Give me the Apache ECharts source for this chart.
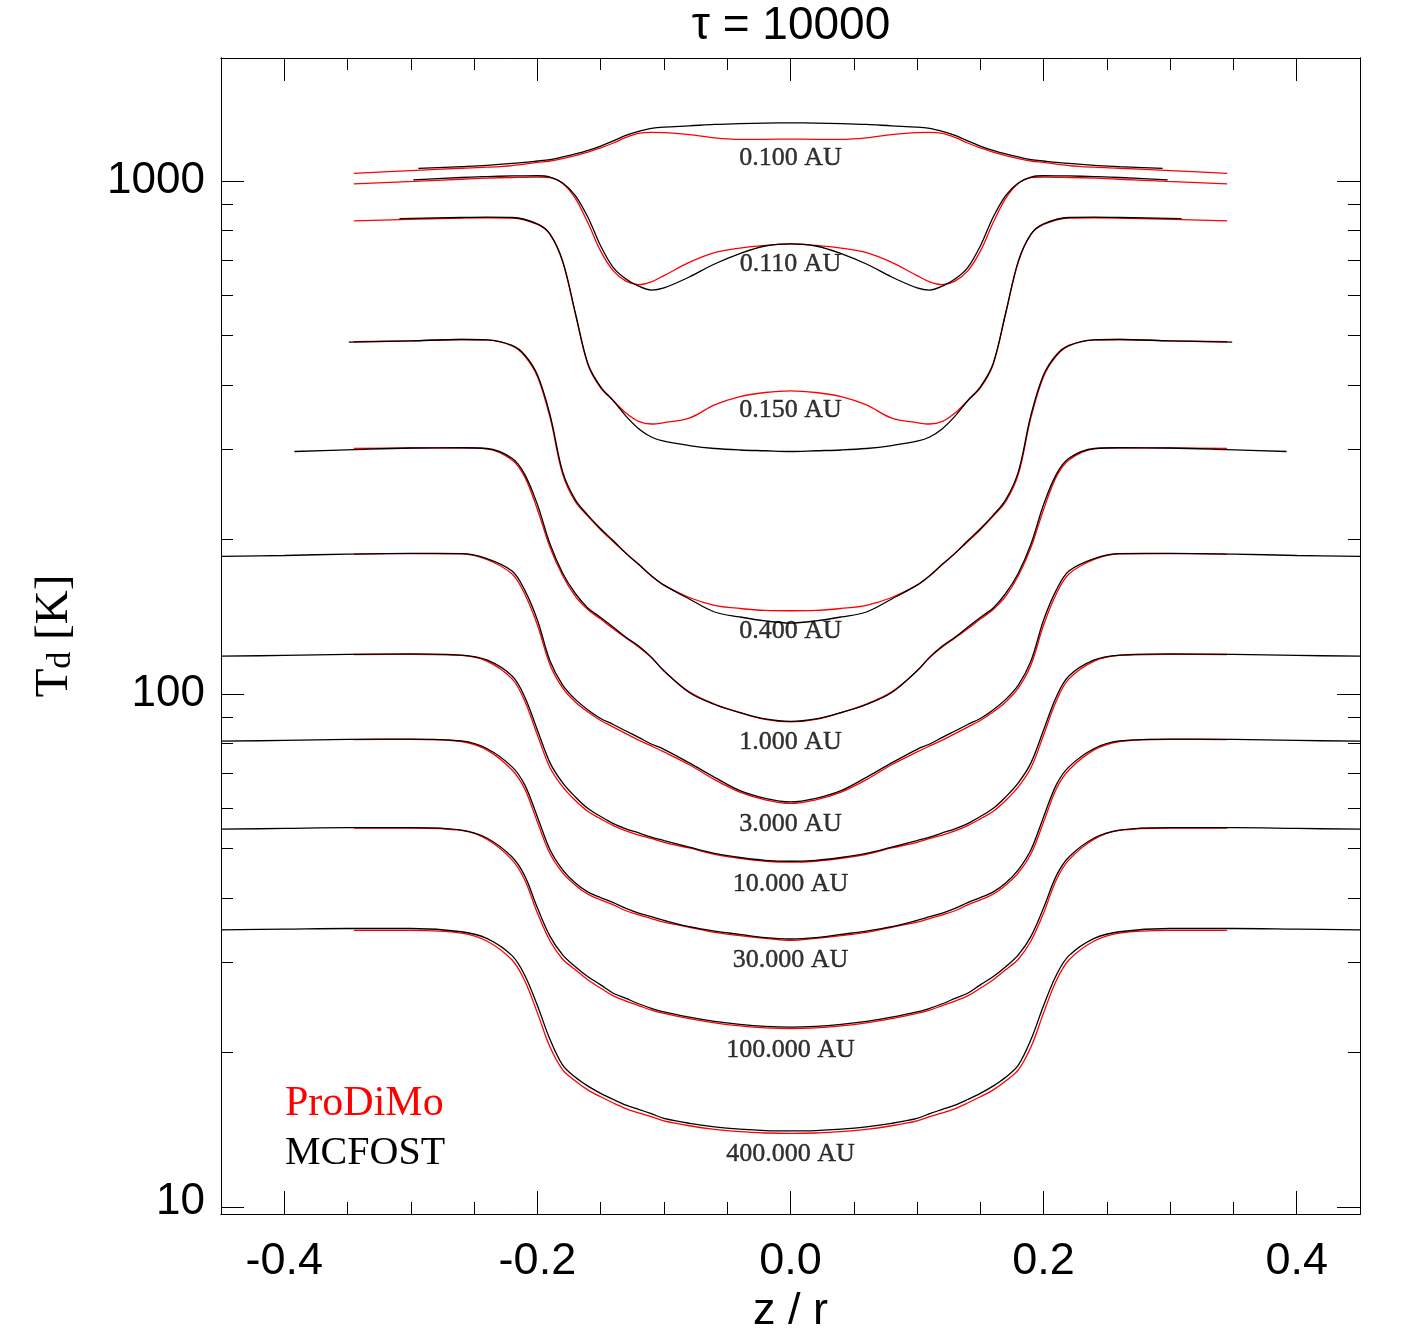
<!DOCTYPE html>
<html><head><meta charset="utf-8">
<script src="https://cdn.jsdelivr.net/npm/echarts@6/dist/echarts.min.js"></script>
<style>html,body{margin:0;padding:0;background:#fff}#c{width:1417px;height:1337px}</style>
</head><body><div id="c"></div>
<script>
// ---------------- data ----------------
const titleText = '\u03c4 = 10000';
const xTickMajor = [-0.4, -0.2, 0, 0.2, 0.4];
const xTickMinor = [-0.35, -0.3, -0.25, -0.15, -0.1, -0.05, 0.05, 0.1, 0.15, 0.25, 0.3, 0.35];
const yTickMajor = [10, 100, 1000];
const yTickMinor = [20, 30, 40, 50, 60, 70, 80, 90, 200, 300, 400, 500, 600, 700, 800, 900];
const curveLabels = ['0.100 AU', '0.110 AU', '0.150 AU', '0.400 AU', '1.000 AU', '3.000 AU', '10.000 AU', '30.000 AU', '100.000 AU', '400.000 AU'];
const curveLabelT = [1109, 689, 358, 132.7, 80.6, 55.8, 42.6, 30.3, 20.2, 12.7];
const legendNames = ['ProDiMo', 'MCFOST'];

// ProDiMo (red) and MCFOST (black) dust temperature profiles [z/r, T_d in K]
const prodimo_0p100 = [[-0.345,1035],[-0.30,1048],[-0.26,1059],[-0.24,1064],[-0.22,1072],[-0.20,1087],[-0.19,1094],[-0.18,1106],[-0.17,1121],[-0.16,1139],[-0.15,1160],[-0.14,1186],[-0.13,1216],[-0.12,1238],[-0.11,1244],[-0.10,1243],[-0.08,1232],[-0.06,1214],[-0.04,1206],[-0.02,1206],[0,1207],[0.02,1206],[0.04,1206],[0.06,1214],[0.08,1232],[0.10,1243],[0.11,1244],[0.12,1238],[0.13,1216],[0.14,1186],[0.15,1160],[0.16,1139],[0.17,1121],[0.18,1106],[0.19,1094],[0.20,1087],[0.22,1072],[0.24,1064],[0.26,1059],[0.30,1048],[0.345,1035]];
const mcfost_0p100 = [[-0.294,1058],[-0.26,1067],[-0.24,1073],[-0.22,1082],[-0.20,1094],[-0.19,1101],[-0.18,1114],[-0.17,1129],[-0.16,1147],[-0.15,1170],[-0.14,1197],[-0.13,1227],[-0.12,1249],[-0.11,1266],[-0.10,1274],[-0.08,1281],[-0.06,1289],[-0.04,1294],[-0.02,1297],[0,1298],[0.02,1297],[0.04,1294],[0.06,1289],[0.08,1281],[0.10,1274],[0.11,1266],[0.12,1249],[0.13,1227],[0.14,1197],[0.15,1170],[0.16,1147],[0.17,1129],[0.18,1114],[0.19,1101],[0.20,1094],[0.22,1082],[0.24,1073],[0.26,1067],[0.294,1058]];

const prodimo_0p110 = [[-0.345,987],[-0.298,998],[-0.26,1008],[-0.24,1013],[-0.22,1016],[-0.20,1018],[-0.19,1015],[-0.18,989],[-0.17,925],[-0.16,828],[-0.15,730],[-0.14,668],[-0.13,638],[-0.12,628],[-0.11,636],[-0.10,654],[-0.08,694],[-0.06,725],[-0.04,740],[-0.02,749],[0,754],[0.02,749],[0.04,740],[0.06,725],[0.08,694],[0.10,654],[0.11,636],[0.12,628],[0.13,638],[0.14,668],[0.15,730],[0.16,828],[0.17,925],[0.18,989],[0.19,1015],[0.20,1018],[0.22,1016],[0.24,1013],[0.26,1008],[0.298,998],[0.345,987]];
const mcfost_0p110 = [[-0.298,1005],[-0.26,1016],[-0.24,1020],[-0.22,1023],[-0.20,1024],[-0.19,1018],[-0.18,991],[-0.17,937],[-0.16,849],[-0.15,747],[-0.14,678],[-0.13,644],[-0.12,624],[-0.11,613],[-0.10,619],[-0.08,650],[-0.06,689],[-0.04,722],[-0.02,747],[0,754],[0.02,747],[0.04,722],[0.06,689],[0.08,650],[0.10,619],[0.11,613],[0.12,624],[0.13,644],[0.14,678],[0.15,747],[0.16,849],[0.17,937],[0.18,991],[0.19,1018],[0.20,1024],[0.22,1023],[0.24,1020],[0.26,1016],[0.298,1005]];

const prodimo_0p150 = [[-0.345,836],[-0.309,841],[-0.26,847],[-0.24,848],[-0.22,847],[-0.20,823],[-0.19,787],[-0.18,695],[-0.17,551],[-0.16,438],[-0.15,395],[-0.14,373],[-0.13,353],[-0.12,340],[-0.11,336],[-0.10,338],[-0.08,345],[-0.06,366],[-0.04,380],[-0.02,387],[0,390],[0.02,387],[0.04,380],[0.06,366],[0.08,345],[0.10,338],[0.11,336],[0.12,340],[0.13,353],[0.14,373],[0.15,395],[0.16,438],[0.17,551],[0.18,695],[0.19,787],[0.20,823],[0.22,847],[0.24,848],[0.26,847],[0.309,841],[0.345,836]];
const mcfost_0p150 = [[-0.309,845],[-0.26,849],[-0.24,850],[-0.22,849],[-0.20,825],[-0.19,788],[-0.18,698],[-0.17,553],[-0.16,440],[-0.15,397],[-0.14,373],[-0.13,348],[-0.12,329],[-0.11,317],[-0.10,311],[-0.08,305],[-0.06,301],[-0.04,299],[-0.02,298],[0,297],[0.02,298],[0.04,299],[0.06,301],[0.08,305],[0.10,311],[0.11,317],[0.12,329],[0.13,348],[0.14,373],[0.15,397],[0.16,440],[0.17,553],[0.18,698],[0.19,788],[0.20,825],[0.22,849],[0.24,850],[0.26,849],[0.309,845]];

const prodimo_0p400 = [[-0.345,486],[-0.30,488],[-0.26,491],[-0.24,490],[-0.22,477],[-0.21,456],[-0.20,416],[-0.19,346],[-0.18,268],[-0.17,237],[-0.16,222],[-0.15,209],[-0.14,198],[-0.13,188],[-0.12,179],[-0.11,170],[-0.10,163],[-0.08,154.2],[-0.06,148.9],[-0.04,146.8],[-0.02,145.5],[0,145.3],[0.02,145.5],[0.04,146.8],[0.06,148.9],[0.08,154.2],[0.10,163],[0.11,170],[0.12,179],[0.13,188],[0.14,198],[0.15,209],[0.16,222],[0.17,237],[0.18,268],[0.19,346],[0.20,416],[0.21,456],[0.22,477],[0.24,490],[0.26,491],[0.30,488],[0.345,486]];
const mcfost_0p400 = [[-0.349,485],[-0.30,488],[-0.26,491],[-0.24,490],[-0.22,478],[-0.21,458],[-0.20,419],[-0.19,350],[-0.18,271],[-0.17,239],[-0.16,223],[-0.15,210],[-0.14,199],[-0.13,188],[-0.12,179],[-0.11,170],[-0.10,163],[-0.08,153.2],[-0.06,144.5],[-0.04,141.3],[-0.02,138.8],[0,137.5],[0.02,138.8],[0.04,141.3],[0.06,144.5],[0.08,153.2],[0.10,163],[0.11,170],[0.12,179],[0.13,188],[0.14,199],[0.15,210],[0.16,223],[0.17,239],[0.18,271],[0.19,350],[0.20,419],[0.21,458],[0.22,478],[0.24,490],[0.26,491],[0.30,488],[0.349,485]];

const prodimo_1p000 = [[-0.345,301],[-0.30,301.7],[-0.26,302],[-0.24,300.6],[-0.22,286],[-0.21,265],[-0.20,229],[-0.19,193],[-0.18,170],[-0.17,155],[-0.16,146],[-0.15,140],[-0.14,134],[-0.13,128.6],[-0.12,123.5],[-0.11,117.8],[-0.10,110.9],[-0.08,101],[-0.06,95.6],[-0.04,92],[-0.02,89.2],[0,88.2],[0.02,89.2],[0.04,92],[0.06,95.6],[0.08,101],[0.10,110.9],[0.11,117.8],[0.12,123.5],[0.13,128.6],[0.14,134],[0.15,140],[0.16,146],[0.17,155],[0.18,170],[0.19,193],[0.20,229],[0.21,265],[0.22,286],[0.24,300.6],[0.26,302],[0.30,301.7],[0.345,301]];
const mcfost_1p000 = [[-0.392,297],[-0.345,299.6],[-0.30,301.7],[-0.26,302],[-0.24,301],[-0.22,288],[-0.21,268],[-0.20,234],[-0.19,196],[-0.18,172],[-0.17,157],[-0.16,147],[-0.15,141],[-0.14,135],[-0.13,129],[-0.12,124],[-0.11,118],[-0.10,111],[-0.08,100.7],[-0.06,95.4],[-0.04,92],[-0.02,89.4],[0,88.4],[0.02,89.4],[0.04,92],[0.06,95.4],[0.08,100.7],[0.10,111],[0.11,118],[0.12,124],[0.13,129],[0.14,135],[0.15,141],[0.16,147],[0.17,157],[0.18,172],[0.19,196],[0.20,234],[0.21,268],[0.22,288],[0.24,301],[0.26,302],[0.30,301.7],[0.345,299.6],[0.392,297]];

const prodimo_3p000 = [[-0.345,187.4],[-0.30,187.8],[-0.26,187.5],[-0.24,182.9],[-0.22,171.3],[-0.21,156.6],[-0.20,136.3],[-0.19,113.9],[-0.18,102.7],[-0.17,96.5],[-0.16,92.2],[-0.15,88.8],[-0.14,86.2],[-0.13,83.7],[-0.12,81.3],[-0.11,79.2],[-0.10,77.1],[-0.08,72.8],[-0.06,68.1],[-0.04,64.4],[-0.02,62.2],[0,61.2],[0.02,62.2],[0.04,64.4],[0.06,68.1],[0.08,72.8],[0.10,77.1],[0.11,79.2],[0.12,81.3],[0.13,83.7],[0.14,86.2],[0.15,88.8],[0.16,92.2],[0.17,96.5],[0.18,102.7],[0.19,113.9],[0.20,136.3],[0.21,156.6],[0.22,171.3],[0.24,182.9],[0.26,187.5],[0.30,187.8],[0.345,187.4]];
const mcfost_3p000 = [[-0.45,185.4],[-0.40,186.2],[-0.35,187.4],[-0.30,188],[-0.26,187.8],[-0.24,183.7],[-0.22,173.7],[-0.21,159.4],[-0.20,139.4],[-0.19,116],[-0.18,104.1],[-0.17,97.6],[-0.16,93.1],[-0.15,89.6],[-0.14,87.2],[-0.13,84.7],[-0.12,82.3],[-0.11,79.9],[-0.10,78],[-0.08,73.4],[-0.06,68.8],[-0.04,64.8],[-0.02,62.6],[0,61.6],[0.02,62.6],[0.04,64.8],[0.06,68.8],[0.08,73.4],[0.10,78],[0.11,79.9],[0.12,82.3],[0.13,84.7],[0.14,87.2],[0.15,89.6],[0.16,93.1],[0.17,97.6],[0.18,104.1],[0.19,116],[0.20,139.4],[0.21,159.4],[0.22,173.7],[0.24,183.7],[0.26,187.8],[0.30,188],[0.35,187.4],[0.40,186.2],[0.45,185.4]];

const prodimo_10p000 = [[-0.345,119.4],[-0.30,119.5],[-0.26,118.9],[-0.24,115.9],[-0.22,107],[-0.21,96.9],[-0.20,83.2],[-0.19,71.8],[-0.18,65.9],[-0.17,62],[-0.16,59],[-0.15,57.1],[-0.14,55.4],[-0.13,54.1],[-0.12,53.1],[-0.11,52.3],[-0.10,51.4],[-0.08,50.1],[-0.06,48.7],[-0.04,47.8],[-0.02,47.2],[0,47],[0.02,47.2],[0.04,47.8],[0.06,48.7],[0.08,50.1],[0.10,51.4],[0.11,52.3],[0.12,53.1],[0.13,54.1],[0.14,55.4],[0.15,57.1],[0.16,59],[0.17,62],[0.18,65.9],[0.19,71.8],[0.20,83.2],[0.21,96.9],[0.22,107],[0.24,115.9],[0.26,118.9],[0.30,119.5],[0.345,119.4]];
const mcfost_10p000 = [[-0.45,118.5],[-0.40,118.9],[-0.35,119.5],[-0.30,119.7],[-0.26,119.1],[-0.24,116.5],[-0.22,108.4],[-0.21,98.7],[-0.20,85.1],[-0.19,73.4],[-0.18,67.1],[-0.17,63],[-0.16,59.8],[-0.15,57.7],[-0.14,55.9],[-0.13,54.6],[-0.12,53.6],[-0.11,52.6],[-0.10,51.8],[-0.08,50.3],[-0.06,48.9],[-0.04,48],[-0.02,47.4],[0,47.2],[0.02,47.4],[0.04,48],[0.06,48.9],[0.08,50.3],[0.10,51.8],[0.11,52.6],[0.12,53.6],[0.13,54.6],[0.14,55.9],[0.15,57.7],[0.16,59.8],[0.17,63],[0.18,67.1],[0.19,73.4],[0.20,85.1],[0.21,98.7],[0.22,108.4],[0.24,116.5],[0.26,119.1],[0.30,119.7],[0.35,119.5],[0.40,118.9],[0.45,118.5]];

const prodimo_30p000 = [[-0.345,81.5],[-0.30,81.6],[-0.26,80.8],[-0.24,77.8],[-0.22,71.1],[-0.21,65.3],[-0.20,56.3],[-0.19,48.8],[-0.18,44.8],[-0.17,42.4],[-0.16,40.7],[-0.15,39.7],[-0.14,38.8],[-0.13,37.8],[-0.12,37.1],[-0.11,36.5],[-0.10,35.9],[-0.08,35.1],[-0.06,34.3],[-0.04,33.8],[-0.02,33.4],[0,33.1],[0.02,33.4],[0.04,33.8],[0.06,34.3],[0.08,35.1],[0.10,35.9],[0.11,36.5],[0.12,37.1],[0.13,37.8],[0.14,38.8],[0.15,39.7],[0.16,40.7],[0.17,42.4],[0.18,44.8],[0.19,48.8],[0.20,56.3],[0.21,65.3],[0.22,71.1],[0.24,77.8],[0.26,80.8],[0.30,81.6],[0.345,81.5]];
const mcfost_30p000 = [[-0.45,80.9],[-0.40,81.2],[-0.35,81.6],[-0.30,81.7],[-0.26,81],[-0.24,78.3],[-0.22,72.1],[-0.21,66.5],[-0.20,57.6],[-0.19,49.7],[-0.18,45.4],[-0.17,42.8],[-0.16,41.1],[-0.15,40.1],[-0.14,39.2],[-0.13,38.2],[-0.12,37.4],[-0.11,36.8],[-0.10,36.2],[-0.08,35.2],[-0.06,34.5],[-0.04,34],[-0.02,33.5],[0,33.3],[0.02,33.5],[0.04,34],[0.06,34.5],[0.08,35.2],[0.10,36.2],[0.11,36.8],[0.12,37.4],[0.13,38.2],[0.14,39.2],[0.15,40.1],[0.16,41.1],[0.17,42.8],[0.18,45.4],[0.19,49.7],[0.20,57.6],[0.21,66.5],[0.22,72.1],[0.24,78.3],[0.26,81],[0.30,81.7],[0.35,81.6],[0.40,81.2],[0.45,80.9]];

const prodimo_100p000 = [[-0.345,54.8],[-0.30,54.8],[-0.26,54.2],[-0.24,52.1],[-0.22,47.5],[-0.21,43.4],[-0.20,37.4],[-0.19,33],[-0.18,30.4],[-0.17,29],[-0.16,27.7],[-0.15,26.7],[-0.14,25.8],[-0.13,25.2],[-0.12,24.7],[-0.11,24.2],[-0.10,23.84],[-0.08,23.28],[-0.06,22.85],[-0.04,22.54],[-0.02,22.34],[0,22.27],[0.02,22.34],[0.04,22.54],[0.06,22.85],[0.08,23.28],[0.10,23.84],[0.11,24.2],[0.12,24.7],[0.13,25.2],[0.14,25.8],[0.15,26.7],[0.16,27.7],[0.17,29],[0.18,30.4],[0.19,33],[0.20,37.4],[0.21,43.4],[0.22,47.5],[0.24,52.1],[0.26,54.2],[0.30,54.8],[0.345,54.8]];
const mcfost_100p000 = [[-0.45,54.5],[-0.40,54.7],[-0.35,54.9],[-0.30,54.9],[-0.26,54.3],[-0.24,52.4],[-0.22,48.1],[-0.21,44.2],[-0.20,38.3],[-0.19,33.7],[-0.18,31],[-0.17,29.4],[-0.16,28.1],[-0.15,27.1],[-0.14,26.1],[-0.13,25.5],[-0.12,24.9],[-0.11,24.4],[-0.10,24.0],[-0.08,23.44],[-0.06,23.0],[-0.04,22.69],[-0.02,22.49],[0,22.42],[0.02,22.49],[0.04,22.69],[0.06,23.0],[0.08,23.44],[0.10,24.0],[0.11,24.4],[0.12,24.9],[0.13,25.5],[0.14,26.1],[0.15,27.1],[0.16,28.1],[0.17,29.4],[0.18,31],[0.19,33.7],[0.20,38.3],[0.21,44.2],[0.22,48.1],[0.24,52.4],[0.26,54.3],[0.30,54.9],[0.35,54.9],[0.40,54.7],[0.45,54.5]];

const prodimo_400p000 = [[-0.345,34.6],[-0.30,34.6],[-0.26,34.2],[-0.24,33],[-0.22,30.3],[-0.21,27.6],[-0.20,23.9],[-0.19,20.5],[-0.18,18.5],[-0.17,17.6],[-0.16,16.9],[-0.15,16.4],[-0.14,15.95],[-0.13,15.55],[-0.12,15.25],[-0.11,15.0],[-0.10,14.72],[-0.08,14.40],[-0.06,14.17],[-0.04,14.02],[-0.02,13.94],[0,13.91],[0.02,13.94],[0.04,14.02],[0.06,14.17],[0.08,14.40],[0.10,14.72],[0.11,15.0],[0.12,15.25],[0.13,15.55],[0.14,15.95],[0.15,16.4],[0.16,16.9],[0.17,17.6],[0.18,18.5],[0.19,20.5],[0.20,23.9],[0.21,27.6],[0.22,30.3],[0.24,33],[0.26,34.2],[0.30,34.6],[0.345,34.6]];
const mcfost_400p000 = [[-0.45,34.7],[-0.40,34.8],[-0.35,34.9],[-0.30,34.9],[-0.26,34.4],[-0.24,33.4],[-0.22,30.9],[-0.21,28.3],[-0.20,24.7],[-0.19,21.2],[-0.18,18.9],[-0.17,17.9],[-0.16,17.2],[-0.15,16.65],[-0.14,16.2],[-0.13,15.8],[-0.12,15.5],[-0.11,15.2],[-0.10,14.89],[-0.08,14.56],[-0.06,14.33],[-0.04,14.18],[-0.02,14.09],[0,14.07],[0.02,14.09],[0.04,14.18],[0.06,14.33],[0.08,14.56],[0.10,14.89],[0.11,15.2],[0.12,15.5],[0.13,15.8],[0.14,16.2],[0.15,16.65],[0.16,17.2],[0.17,17.9],[0.18,18.9],[0.19,21.2],[0.20,24.7],[0.21,28.3],[0.22,30.9],[0.24,33.4],[0.26,34.4],[0.30,34.9],[0.35,34.9],[0.40,34.8],[0.45,34.7]];

const prodimoProfiles = [prodimo_0p100, prodimo_0p110, prodimo_0p150, prodimo_0p400, prodimo_1p000, prodimo_3p000, prodimo_10p000, prodimo_30p000, prodimo_100p000, prodimo_400p000];
const mcfostProfiles = [mcfost_0p100, mcfost_0p110, mcfost_0p150, mcfost_0p400, mcfost_1p000, mcfost_3p000, mcfost_10p000, mcfost_30p000, mcfost_100p000, mcfost_400p000];

// ---------------- chart ----------------
const SANS = 'Liberation Sans';
const SERIF = 'Liberation Serif';
const X_MIN = -0.45, X_MAX = 0.45, Y_MIN = 9.69, Y_MAX = 1737;

function xAxisDef(position, ticks, len, withLabels) {
  const ax = {
    type: 'value', gridIndex: 0, position, min: X_MIN, max: X_MAX,
    axisLine: { show: true, onZero: false, lineStyle: { color: '#000', width: 1 } },
    axisTick: { show: true, inside: true, length: len, customValues: ticks, lineStyle: { color: '#000', width: 1 } },
    axisLabel: { show: false },
    splitLine: { show: false }
  };
  if (withLabels) {
    ax.axisLabel = { show: true, customValues: ticks, formatter: v => v.toFixed(1),
      fontFamily: SANS, fontSize: 45, color: '#000', margin: 25 };
    ax.name = 'z / r';
    ax.nameLocation = 'middle';
    ax.nameGap = 71;
    ax.nameTextStyle = { fontFamily: SANS, fontSize: 45, color: '#000' };
  }
  return ax;
}
function yAxisDef(position, ticks, len, withLabels) {
  const ax = {
    type: 'log', logBase: 10, gridIndex: 0, position, min: Y_MIN, max: Y_MAX,
    axisLine: { show: true, onZero: false, lineStyle: { color: '#000', width: 1 } },
    axisTick: { show: true, inside: true, length: len, customValues: ticks, lineStyle: { color: '#000', width: 1 } },
    axisLabel: { show: false },
    splitLine: { show: false },
    minorTick: { show: false }
  };
  if (withLabels) {
    ax.axisLabel = { show: true, customValues: ticks,
      formatter: v => (Math.round(v) === 10 ? '{lo|10}' : String(Math.round(v))),
      fontFamily: SANS, fontSize: 44, color: '#000', margin: 16,
      rich: { lo: { fontFamily: SANS, fontSize: 44, color: '#000', padding: [0, 0, 10, 0] } } };
    ax.name = '{t|T}{s|d}{t| [K]}';
    ax.nameLocation = 'middle';
    ax.nameRotate = 90;
    ax.nameGap = 143;
    ax.nameTextStyle = { fontFamily: SERIF, fontSize: 47, color: '#000',
      rich: {
        t: { fontFamily: SERIF, fontSize: 47, color: '#000', lineHeight: 47 },
        s: { fontFamily: SERIF, fontSize: 34, color: '#000', lineHeight: 22, verticalAlign: 'bottom' }
      } };
  }
  return ax;
}

const series = [];
prodimoProfiles.forEach(d => series.push({
  type: 'line', name: legendNames[0], data: d, xAxisIndex: 0, yAxisIndex: 0,
  symbol: 'none', showSymbol: false, smooth: 0.35,
  lineStyle: { color: '#ff0000', width: 1.3 }, z: 2, silent: true
}));
mcfostProfiles.forEach(d => series.push({
  type: 'line', name: legendNames[1], data: d, xAxisIndex: 0, yAxisIndex: 0,
  symbol: 'none', showSymbol: false, smooth: 0.35,
  lineStyle: { color: '#000000', width: 1.3 }, z: 3, silent: true
}));
series.push({
  type: 'scatter', xAxisIndex: 0, yAxisIndex: 0, symbolSize: 1, silent: true, z: 4,
  itemStyle: { color: 'rgba(0,0,0,0)' },
  data: curveLabels.map((txt, i) => ({ value: [0, curveLabelT[i]], name: txt })),
  label: { show: true, position: 'inside', formatter: p => p.name,
    fontFamily: SERIF, fontSize: 26, color: '#000', textBorderColor: '#000', textBorderWidth: 0.4 }
});

const chart = echarts.init(document.getElementById('c'), null, { renderer: 'canvas' });
chart.setOption({
  animation: false,
  backgroundColor: '#ffffff',
  grid: { left: 221, right: 57, top: 58, bottom: 123, containLabel: false, outerBoundsMode: 'none' },
  xAxis: [
    xAxisDef('bottom', xTickMajor, 23, true),
    xAxisDef('bottom', xTickMinor, 12, false),
    xAxisDef('top', xTickMajor, 23, false),
    xAxisDef('top', xTickMinor, 12, false)
  ],
  yAxis: [
    yAxisDef('left', yTickMajor, 23, true),
    yAxisDef('left', yTickMinor, 12, false),
    yAxisDef('right', yTickMajor, 23, false),
    yAxisDef('right', yTickMinor, 12, false)
  ],
  graphic: [
    { type: 'text', x: 791, y: 3, silent: true,
      style: { text: titleText, fill: '#000', font: '46px "' + SANS + '"', align: 'center', verticalAlign: 'top' } },
    { type: 'text', left: 285, top: 1083, silent: true,
      style: { text: legendNames[0], fill: '#ff0000', font: '42px "' + SERIF + '"' } },
    { type: 'text', left: 285, top: 1133, silent: true,
      style: { text: legendNames[1], fill: '#000000', font: '40px "' + SERIF + '"' } }
  ],
  series
});
</script>
</body></html>
